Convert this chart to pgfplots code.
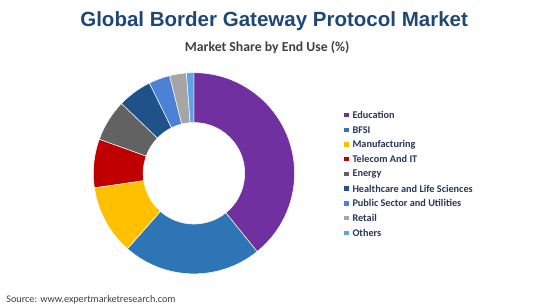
\documentclass[border=0pt]{standalone}
\usepackage{pgfplots}
\usepackage{pgfplotstable}
\pgfplotsset{compat=1.18}
\usepackage{fontspec}
\setmainfont{Carlito}
\newfontfamily\titlefont{Liberation Sans}

\definecolor{c0}{HTML}{7030A0}
\definecolor{c1}{HTML}{2E75B6}
\definecolor{c2}{HTML}{FFC000}
\definecolor{c3}{HTML}{C00000}
\definecolor{c4}{HTML}{626262}
\definecolor{c5}{HTML}{1F5288}
\definecolor{c6}{HTML}{4C82D6}
\definecolor{c7}{HTML}{A5A5A5}
\definecolor{c8}{HTML}{5BA3E6}
\definecolor{titleblue}{HTML}{1F4775}
\definecolor{legtext}{HTML}{263859}
\definecolor{subgray}{HTML}{404040}

% Market share by end use (%)
\pgfplotstableread{
value
39.2
22.3
11.2
7.8
6.7
5.5
3.4
2.7
1.2
}\sharetable

\newcommand\cx{192.5}
\newcommand\cy{135}

\begin{document}
% cumulative angles (clockwise from 12 o'clock)
\def\cum{0}
\pgfplotsforeachungrouped \i in {0,...,8}{%
  \pgfplotstablegetelem{\i}{value}\of\sharetable
  \pgfmathsetmacro\a{90-3.6*\cum}%
  \expandafter\xdef\csname sa\i\endcsname{\a}%
  \pgfmathsetmacro\cum{\cum+\pgfplotsretval}%
  \pgfmathsetmacro\b{90-3.6*\cum}%
  \expandafter\xdef\csname ea\i\endcsname{\b}%
}%
\begin{tikzpicture}
\begin{axis}[
  width=550pt, height=309pt, scale only axis,
  xmin=0, xmax=550, ymin=0, ymax=309,
  hide axis, clip=false,
]
\pgfplotsinvokeforeach{0,...,8}{
  \fill[c#1, draw=white, line width=0.5pt]
    ([shift={(\csname sa#1\endcsname:101pt)}]axis cs:\cx,\cy)
    arc[start angle=\csname sa#1\endcsname, end angle=\csname ea#1\endcsname, radius=101pt]
    -- ([shift={(\csname ea#1\endcsname:51pt)}]axis cs:\cx,\cy)
    arc[start angle=\csname ea#1\endcsname, end angle=\csname sa#1\endcsname, radius=51pt]
    -- cycle;
}
% titles
\node[font=\titlefont\bfseries\fontsize{20.6}{23}\selectfont, text=titleblue]
  at (axis cs:273,287.5) {Global Border Gateway Protocol Market};
\node[font=\bfseries\fontsize{13.8}{16}\selectfont, text=subgray]
  at (axis cs:266,261.5) {Market Share by End Use (\%)};
% legend
\pgfplotsinvokeforeach{0,...,8}{
  \fill[c#1] (axis cs:343.5,{309-115.7-14.75*#1-2.2}) rectangle (axis cs:347.9,{309-115.7-14.75*#1+2.2});
}
\begin{scope}[every node/.style={anchor=west, inner sep=0pt, font=\bfseries\fontsize{10.3}{12}\selectfont, text=legtext}]
\node at (axis cs:351.5,{309-115.7}) {Education};
\node at (axis cs:351.5,{309-115.7-14.75}) {BFSI};
\node at (axis cs:351.5,{309-115.7-2*14.75}) {Manufacturing};
\node at (axis cs:351.5,{309-115.7-3*14.75}) {Telecom And IT};
\node at (axis cs:351.5,{309-115.7-4*14.75}) {Energy};
\node at (axis cs:351.5,{309-115.7-5*14.75}) {Healthcare and Life Sciences};
\node at (axis cs:351.5,{309-115.7-6*14.75}) {Public Sector and Utilities};
\node at (axis cs:351.5,{309-115.7-7*14.75}) {Retail};
\node at (axis cs:351.5,{309-115.7-8*14.75}) {Others};
\end{scope}
\node[anchor=west, inner sep=0pt, font=\fontsize{10.2}{12}\selectfont, text=subgray]
  at (axis cs:4,8) {Source: www.expertmarketresearch.com};
\end{axis}
\useasboundingbox (0,0) rectangle (550pt,309pt);
\end{tikzpicture}
\end{document}
